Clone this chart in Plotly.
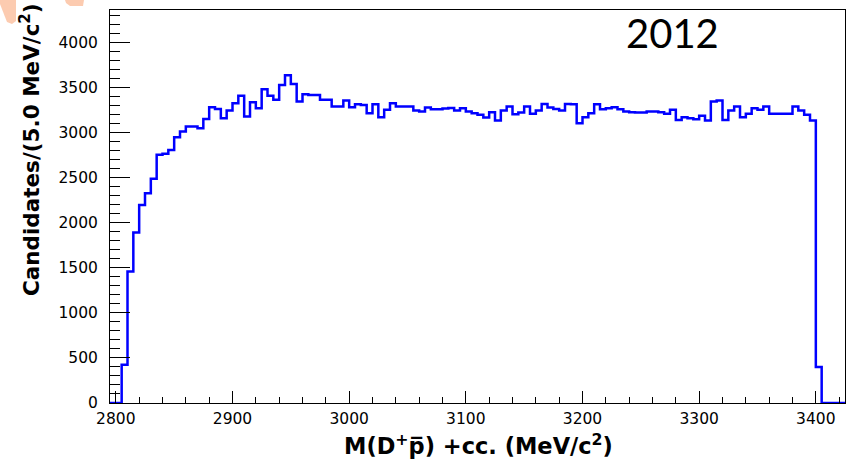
import plotly.graph_objects as go

# ---- data -------------------------------------------------------------
bin_low_edge = 2795.0      # MeV/c^2, lower edge of first bin
bin_width = 5.0            # MeV/c^2
counts = [
    0, 0, 425, 1459, 1891, 2198, 2328, 2487, 2753, 2764,
    2808, 2949, 3011, 3067, 3067, 3048, 3152, 3282, 3263, 3160,
    3245, 3326, 3410, 3178, 3337, 3271, 3481, 3410, 3363, 3529,
    3636, 3540, 3344, 3426, 3418, 3418, 3363, 3363, 3289, 3289,
    3355, 3282, 3315, 3307, 3215, 3315, 3171, 3252, 3326, 3289,
    3289, 3289, 3245, 3234, 3278, 3260, 3260, 3267, 3274, 3245,
    3271, 3234, 3215, 3197, 3167, 3226, 3134, 3245, 3289, 3204,
    3223, 3289, 3208, 3245, 3318, 3278, 3263, 3245, 3318, 3315,
    3104, 3171, 3215, 3315, 3260, 3271, 3282, 3260, 3234, 3226,
    3223, 3223, 3234, 3234, 3226, 3208, 3252, 3141, 3171, 3160,
    3149, 3186, 3134, 3344, 3355, 3141, 3245, 3289, 3171, 3208,
    3271, 3252, 3289, 3208, 3208, 3208, 3208, 3289, 3245, 3197,
    3134, 399, 0, 0, 0, 0,
]
x_ticks = [2800, 2900, 3000, 3100, 3200, 3300, 3400]
y_ticks = [0, 500, 1000, 1500, 2000, 2500, 3000, 3500, 4000]
year_label = "2012"
x_title = "<b>M(D<sup>+</sup>p\u0305) +cc. (MeV/c<sup>2</sup>)</b>"
y_title = "<b>Candidates/(5.0 MeV/c<sup>2</sup>)</b>"

# bin edges for a step outline
edges = [bin_low_edge + bin_width * i for i in range(len(counts) + 1)]
step_y = counts + [counts[-1]]

# ---- figure -----------------------------------------------------------
W, H = 850, 469
ML, MR, MT, MB = 110, 5, 10, 66
PW, PH = W - ML - MR, H - MT - MB


def px(xp):
    return (xp - ML) / PW


def py(yp):
    return (H - MB - yp) / PH


fig = go.Figure()
fig.add_trace(go.Scatter(
    x=edges, y=step_y, mode="lines", line_shape="hv",
    line=dict(color="#0000ff", width=2.5), hoverinfo="skip",
    showlegend=False,
))

axis_font = dict(family="DejaVu Sans, sans-serif", size=15.5, color="black")

fig.update_layout(
    width=W, height=H,
    margin=dict(l=ML, r=MR, t=MT, b=MB, pad=0),
    paper_bgcolor="white", plot_bgcolor="white",
    xaxis=dict(
        range=[edges[0], edges[-1]], tickvals=x_ticks,
        ticks="inside", ticklen=12, tickwidth=1, tickcolor="black",
        minor=dict(dtick=20, ticks="inside", ticklen=6, tickwidth=1, tickcolor="black"),
        showline=True, linecolor="black", linewidth=1, mirror=True,
        showgrid=False, zeroline=False, tickfont=axis_font,
        ticklabelstandoff=1,
    ),
    yaxis=dict(
        range=[0, 4360], tickvals=y_ticks,
        ticks="inside", ticklen=20, tickwidth=1, tickcolor="black",
        minor=dict(dtick=100, ticks="inside", ticklen=10, tickwidth=1, tickcolor="black"),
        showline=True, linecolor="black", linewidth=1, mirror=True,
        showgrid=False, zeroline=False, tickfont=axis_font,
        ticklabelstandoff=8,
    ),
)

fig.add_annotation(text=y_title, xref="paper", yref="paper",
                   x=px(30), y=py(150), xanchor="center", yanchor="middle",
                   textangle=-90, showarrow=False,
                   font=dict(family="DejaVu Sans, sans-serif", size=21.5, color="black"))
fig.add_annotation(text=x_title, xref="paper", yref="paper",
                   x=px(478), y=py(444), xanchor="center", yanchor="middle",
                   showarrow=False,
                   font=dict(family="DejaVu Sans, sans-serif", size=22.5, color="black"))
fig.add_annotation(text=year_label, xref="paper", yref="paper",
                   x=px(672), y=py(33), xanchor="center", yanchor="middle",
                   showarrow=False,
                   font=dict(family="Lato, Open Sans, sans-serif", size=40, color="black"))


def path(points):
    return "M " + " L ".join(f"{px(a):.5f},{py(b):.5f}" for a, b in points) + " Z"


peach = "#fccbb0"
fig.add_shape(type="path", xref="paper", yref="paper",
              path=path([(0, 0), (16, 0), (16, 21), (12, 24), (7, 22), (0, 4)]),
              fillcolor=peach, line=dict(width=0), layer="above")
fig.add_shape(type="path", xref="paper", yref="paper",
              path=path([(65, 0), (84, 0), (83, 6), (70, 6), (66, 3)]),
              fillcolor=peach, line=dict(width=0), layer="above")

fig.write_html(
    "out.html",
    config={"displayModeBar": False},
    post_script="document.body.style.margin='0';document.body.style.overflow='hidden';",
)
